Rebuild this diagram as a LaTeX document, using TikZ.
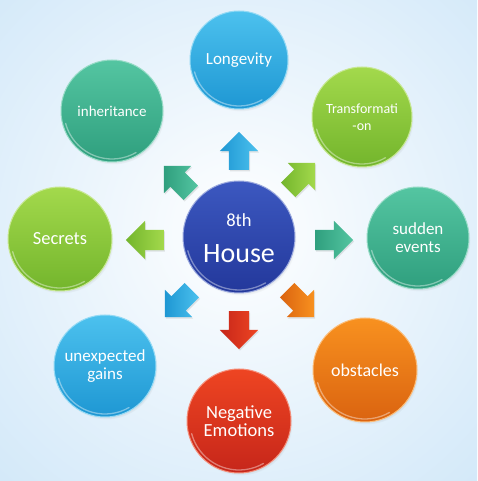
\documentclass[tikz,border=0pt]{standalone}
\usepackage{fontspec}
\setmainfont{Carlito}
\usetikzlibrary{shapes.arrows,shadows}
\definecolor{bgblue}{HTML}{C0DFF6}
\definecolor{bluetop}{HTML}{4CC1EE}
\definecolor{bluebot}{HTML}{1E97D3}
\definecolor{greentop}{HTML}{A3D94C}
\definecolor{greenbot}{HTML}{73B52C}
\definecolor{tealtop}{HTML}{54C5A1}
\definecolor{tealbot}{HTML}{2F9F7E}
\definecolor{orangetop}{HTML}{F8911F}
\definecolor{orangebot}{HTML}{DA6310}
\definecolor{redtop}{HTML}{EE4522}
\definecolor{redbot}{HTML}{C6261A}
\definecolor{navytop}{HTML}{3C58C0}
\definecolor{navybot}{HTML}{23389B}
\tikzset{
  bub/.style={circle, inner sep=0pt, minimum size=#1, text=white, align=center,
    line width=1pt,
    circular drop shadow={shadow xshift=1.5pt, shadow yshift=-2.5pt, shadow scale=1, opacity=0.25, fill=black!70}},
  cblue/.style={top color=bluetop, bottom color=bluebot, draw=bluetop!60!white},
  cgreen/.style={top color=greentop, bottom color=greenbot, draw=greentop!60!white},
  cteal/.style={top color=tealtop, bottom color=tealbot, draw=tealtop!60!white},
  corange/.style={top color=orangetop, bottom color=orangebot, draw=orangetop!60!white},
  cred/.style={top color=redtop, bottom color=redbot, draw=redtop!60!white},
  cnavy/.style={top color=navytop, bottom color=navybot, draw=navytop!50!white},
  rim/.style={white, opacity=0.4, line width=1.3pt, line cap=round},
  arr/.style={single arrow, minimum height=38pt, single arrow head extend=9pt,
    inner sep=0pt, text height=10pt, text depth=10pt, text width=0pt,
    drop shadow={shadow xshift=1pt, shadow yshift=-1.5pt, opacity=0.2}},
  ablue/.style={left color=bluebot, right color=bluetop},
  agreen/.style={left color=greenbot, right color=greentop},
  ateal/.style={left color=tealbot, right color=tealtop},
  aorange/.style={left color=orangebot, right color=orangetop},
  ared/.style={left color=redbot, right color=redtop},
  lbl/.style={text=white, align=center, inner sep=0pt}
}
\newcommand\glossrim[2]{\draw[rim] ([shift={(195:#2-3)}]#1.center) arc[start angle=195,end angle=300,radius=#2-3];}
\begin{document}
\begin{tikzpicture}[x=1pt,y=1pt]
\useasboundingbox (0,0) rectangle (477,481);
\begin{scope}
  \clip (0,0) rectangle (477,481);
  \fill[bgblue] (0,0) rectangle (477,481);
  \shade[inner color=white, outer color=bgblue] (239,250) circle (500);
\end{scope}

% arrows
\node[arr, ablue, rotate=90]    (aU)  at (239,325) {};
\node[arr, agreen, rotate=45]   (aUR) at (298,301) {};
\node[arr, ateal, rotate=0]     (aR)  at (329,241) {};
\node[arr, aorange, rotate=-45] (aDR) at (297,181) {};
\node[arr, ared, rotate=-90]    (aD)  at (239,156) {};
\node[arr, ablue, rotate=-135]  (aDL) at (182,181) {};
\node[arr, agreen, rotate=180]  (aL)  at (150,241) {};
\node[arr, ateal, rotate=135]   (aUL) at (181,298) {};

% centre
\node[bub=112pt, cnavy] (c) at (239,244) {};
\glossrim{c}{56}
\node[lbl, anchor=base, font=\fontsize{18.5}{20}\selectfont] (c8) at (239,254) {8th};
\node[lbl, anchor=base, font=\fontsize{28}{30}\selectfont] (ch) at (239,218) {House};

% outer bubbles
\node[bub=98pt, cblue, font=\fontsize{17}{18}\selectfont] (lon) at (239,421) {Longevity};
\glossrim{lon}{49}
\node[bub=100pt, cgreen, font=\fontsize{14}{17}\selectfont] (tra) at (362,364) {Transformati\\-on};
\glossrim{tra}{50}
\node[bub=102pt, cteal, font=\fontsize{17}{18}\selectfont] (sud) at (418,243) {sudden\\events};
\glossrim{sud}{51}
\node[bub=104pt, corange, font=\fontsize{18}{20}\selectfont] (obs) at (365,111) {obstacles};
\glossrim{obs}{52}
\node[bub=104pt, cred, font=\fontsize{18.5}{18.5}\selectfont] (neg) at (239,60) {Negative\\Emotions};
\glossrim{neg}{52}
\node[bub=102pt, cblue, font=\fontsize{17}{18}\selectfont] (une) at (105,115) {unexpected\\gains};
\glossrim{une}{51}
\node[bub=104pt, cgreen, font=\fontsize{18.5}{20}\selectfont] (sec) at (60,242) {Secrets};
\glossrim{sec}{52}
\node[bub=102pt, cteal, font=\fontsize{15}{16}\selectfont] (inh) at (112,370) {inheritance};
\glossrim{inh}{51}
\end{tikzpicture}
\end{document}
